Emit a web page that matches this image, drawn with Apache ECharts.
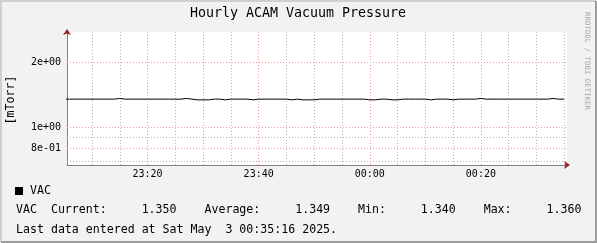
<!DOCTYPE html>
<html><head><meta charset="utf-8">
<script src="https://cdn.jsdelivr.net/npm/echarts@6/dist/echarts.min.js"></script>
<style>html,body{margin:0;padding:0;background:#f2f2f2}#c{width:597px;height:243px}</style>
</head><body><div id="c"></div>
<script>
const chartTitle = 'Hourly ACAM Vacuum Pressure';
const yAxisName = '[mTorr]';
const seriesName = 'VAC';
const creditText = 'RRDTOOL / TOBI OETIKER';
const statsLine = 'VAC  Current:     1.350    Average:     1.349    Min:     1.340    Max:     1.360';
const lastDataLine = 'Last data entered at Sat May  3 00:35:16 2025.';
// one value per minute, starting 23:05
const startTime = new Date(2025, 4, 2, 23, 5, 0).getTime();
const stepMs = 60000;
const vacValues = [
  1.35,1.35,1.35,1.35,1.35,1.35,1.35,1.35,1.35,1.36,
  1.35,1.35,1.35,1.35,1.35,1.35,1.35,1.35,1.35,1.35,
  1.35,1.36,1.35,1.34,1.34,1.34,1.35,1.35,1.34,1.35,
  1.35,1.35,1.35,1.34,1.35,1.35,1.35,1.35,1.35,1.35,
  1.34,1.35,1.34,1.34,1.34,1.35,1.35,1.35,1.35,1.35,
  1.35,1.35,1.35,1.35,1.34,1.34,1.35,1.35,1.34,1.34,
  1.35,1.35,1.35,1.35,1.35,1.34,1.35,1.35,1.35,1.34,
  1.35,1.35,1.35,1.35,1.36,1.35,1.35,1.35,1.35,1.35,
  1.35,1.35,1.35,1.35,1.35,1.35,1.35,1.36,1.35,1.35,
  1.35
];
const xMin = new Date(2025, 4, 2, 23, 5, 30).getTime();
const xMax = new Date(2025, 4, 3, 0, 35, 30).getTime();
// x grid: minor every 5 minutes, major (labelled) every 20 minutes
const xMinorTimes = ['23:10','23:15','23:25','23:30','23:35','23:45','23:50','23:55','00:05','00:10','00:15','00:25','00:30','00:35'];
const xMajorTimes = ['23:20','23:40','00:00','00:20'];
const yMin = 0.669;
const yMax = 2.762;
const yMajorTicks = [2, 1, 0.8];
const yMajorLabels = ['2e+00', '1e+00', '8e-01'];
const yMinorTicks = [0.9, 0.7];

const MONO = '"DejaVu Sans Mono", monospace';
const GRAY_GRID = '#b4b4b4';
const RED_GRID = '#eb9a9a';
const AXIS_COL = '#808080';
const ARROW_COL = '#9c1a1a';

function hhmmToTime(s) {
  const [h, m] = s.split(':').map(Number);
  return h >= 12 ? new Date(2025, 4, 2, h, m, 0).getTime() : new Date(2025, 4, 3, h, m, 0).getTime();
}

const data = vacValues.map((v, i) => [startTime + i * stepMs, v]);

const minorMarks = [];
yMinorTicks.forEach(v => minorMarks.push({ yAxis: v }));
xMinorTimes.forEach(t => minorMarks.push({ xAxis: hhmmToTime(t) }));

const majorMarks = [];
yMajorTicks.forEach((v, i) => majorMarks.push({
  yAxis: v,
  label: { show: true, position: 'start', formatter: yMajorLabels[i], distance: 6,
           color: '#000', fontFamily: MONO, fontSize: 10 }
}));
xMajorTimes.forEach(t => majorMarks.push({
  xAxis: hhmmToTime(t),
  label: { show: true, position: 'start', formatter: t, distance: 4,
           color: '#000', fontFamily: MONO, fontSize: 10 }
}));

const chart = echarts.init(document.getElementById('c'), null, { renderer: 'canvas' });
chart.setOption({
  backgroundColor: '#f2f2f2',
  animation: false,
  grid: { left: 67, right: 30, top: 32, bottom: 78, show: true, backgroundColor: '#ffffff', borderWidth: 0 },
  xAxis: [
    {
      type: 'time', min: xMin, max: xMax,
      axisLine: { show: true, lineStyle: { color: AXIS_COL, width: 1 } },
      axisTick: { show: false }, axisLabel: { show: false }, splitLine: { show: false }
    },
    {
      type: 'time', min: xMin, max: xMax, position: 'bottom',
      axisLine: { show: true, symbol: ['none', 'arrow'], symbolSize: [6, 6], symbolOffset: [0, 3],
                  lineStyle: { color: ARROW_COL, width: 0 } },
      axisTick: { show: false }, axisLabel: { show: false }, splitLine: { show: false }
    }
  ],
  yAxis: [
    {
      type: 'log', logBase: 10, min: yMin, max: yMax,
      axisLine: { show: true, lineStyle: { color: AXIS_COL, width: 1 } },
      axisTick: { show: false }, axisLabel: { show: false }, splitLine: { show: false }
    },
    {
      type: 'log', logBase: 10, min: yMin, max: yMax, position: 'left',
      axisLine: { show: true, symbol: ['none', 'arrow'], symbolSize: [6, 6], symbolOffset: [0, 3],
                  lineStyle: { color: ARROW_COL, width: 0 } },
      axisTick: { show: false }, axisLabel: { show: false }, splitLine: { show: false }
    }
  ],
  series: [
    {
      name: 'minorGrid', type: 'line', data: [], xAxisIndex: 0, yAxisIndex: 0, z: 1,
      markLine: { silent: true, symbol: 'none', animation: false, data: minorMarks,
                  label: { show: false },
                  lineStyle: { color: GRAY_GRID, type: [1, 2], width: 1 } }
    },
    {
      name: 'majorGrid', type: 'line', data: [], xAxisIndex: 0, yAxisIndex: 0, z: 2,
      markLine: { silent: true, symbol: 'none', animation: false, data: majorMarks,
                  lineStyle: { color: RED_GRID, type: [1, 2], width: 1 } }
    },
    {
      name: seriesName, type: 'line', data: data, step: 'end',
      xAxisIndex: 0, yAxisIndex: 0,
      showSymbol: false, symbol: 'none',
      lineStyle: { color: '#000000', width: 1 },
      z: 5
    }
  ],
  graphic: [
    { type: 'text', x: 298, y: 14, style: { text: chartTitle, align: 'center', verticalAlign: 'middle',
      font: '13.3px ' + MONO, fill: '#000' } },
    { type: 'text', x: 11, y: 100, rotation: Math.PI / 2, style: { text: yAxisName, align: 'center',
      verticalAlign: 'middle', font: '11.6px ' + MONO, fill: '#000' } },
    { type: 'text', x: 587, y: 61, rotation: -Math.PI / 2, style: { text: creditText, align: 'center',
      verticalAlign: 'middle', font: '7.4px ' + MONO, fill: '#a8a8a8' } },
    { type: 'rect', shape: { x: 15, y: 187, width: 8, height: 8 }, style: { fill: '#000' } },
    { type: 'text', x: 30, y: 191, style: { text: seriesName, align: 'left', verticalAlign: 'middle',
      font: '11.6px ' + MONO, fill: '#000' } },
    { type: 'text', x: 16, y: 210, style: { text: statsLine, align: 'left', verticalAlign: 'middle',
      font: '11.6px ' + MONO, fill: '#000' } },
    { type: 'text', x: 16, y: 229.5, style: { text: lastDataLine, align: 'left', verticalAlign: 'middle',
      font: '11.6px ' + MONO, fill: '#000' } },
    { type: 'polyline', shape: { points: [[1, 242], [1, 1], [596, 1]] }, style: { stroke: '#cfcfcf', lineWidth: 2, fill: null } },
    { type: 'polyline', shape: { points: [[1, 242], [596, 242], [596, 1]] }, style: { stroke: '#9e9e9e', lineWidth: 2, fill: null } }
  ]
});
</script></body></html>
